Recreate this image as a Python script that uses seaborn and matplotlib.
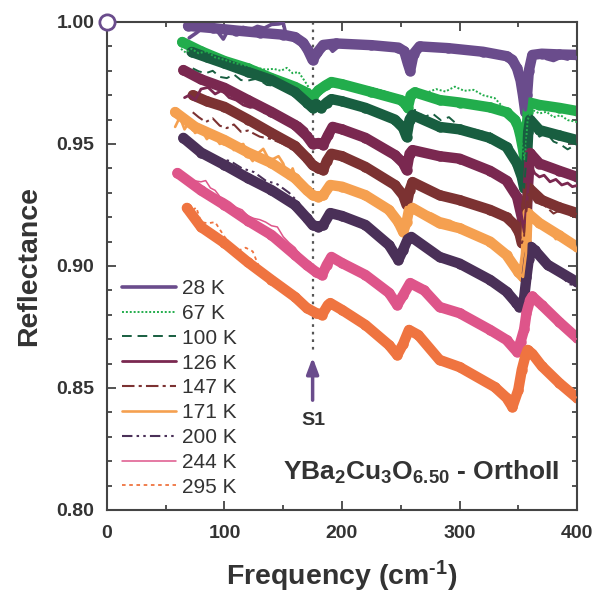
import matplotlib
matplotlib.use("Agg")
import matplotlib.pyplot as plt
import seaborn as sns
import numpy as np
from matplotlib.ticker import MultipleLocator, FormatStrFormatter

# ---------------- data ----------------
labels = ["28 K", "67 K", "100 K", "126 K", "147 K", "171 K", "200 K", "244 K", "295 K"]
colors = ["#6a4c8c", "#22ad4c", "#185e40", "#7a2850", "#7c3232", "#f5a050", "#4a3058", "#de558a", "#ef7440"]

# model fits (thick curves)
f28_x = [69, 90, 110, 130, 150, 160, 167, 171, 175, 179, 184, 195, 225, 248, 253, 256, 258, 261, 266, 290, 320, 340, 345, 349, 352, 354, 356, 357.5, 359, 362, 370, 385, 400]
f28_y = [0.9984, 0.9975, 0.9965, 0.9956, 0.9948, 0.9938, 0.9915, 0.9885, 0.9844, 0.9875, 0.9906, 0.9912, 0.9905, 0.9895, 0.9880, 0.9830, 0.9800, 0.9870, 0.9900, 0.9893, 0.9878, 0.9860, 0.9845, 0.9810, 0.9760, 0.9700, 0.9630, 0.9700, 0.9800, 0.9865, 0.9870, 0.9867, 0.9865]
f67_x = [64, 80, 100, 120, 140, 160, 170, 175, 180, 186, 191, 200, 225, 250, 254, 256, 258.5, 262, 283, 300, 326, 340, 347, 350, 352, 354, 355.5, 357, 358, 359.5, 368, 385, 400]
f67_y = [0.9918, 0.9880, 0.9840, 0.9810, 0.9770, 0.9734, 0.9710, 0.9693, 0.9720, 0.9740, 0.9754, 0.9745, 0.9713, 0.9680, 0.9664, 0.9648, 0.9700, 0.9712, 0.9680, 0.9670, 0.9650, 0.9630, 0.9600, 0.9570, 0.9530, 0.9480, 0.9434, 0.9520, 0.9630, 0.9670, 0.9660, 0.9648, 0.9635]
f100_x = [72, 85, 100, 120, 140, 160, 170, 175, 178, 182, 187, 191, 200, 220, 245, 252, 255, 257.5, 260, 283, 300, 326, 340, 349, 353, 355, 357, 358.5, 360, 368, 385, 400]
f100_y = [0.9877, 0.9855, 0.9830, 0.9795, 0.9762, 0.9713, 0.9670, 0.9648, 0.9664, 0.9648, 0.9670, 0.9684, 0.9675, 0.9648, 0.9600, 0.9566, 0.9529, 0.9600, 0.9619, 0.9570, 0.9560, 0.9525, 0.9488, 0.9420, 0.9365, 0.9320, 0.9400, 0.9550, 0.9600, 0.9557, 0.9535, 0.9516]
f126_x = [65, 80, 100, 120, 140, 160, 170, 175, 180, 184, 188, 192, 200, 220, 245, 252, 255, 257.5, 260, 283, 300, 326, 340, 349, 353, 355, 356.5, 358, 360, 368, 385, 400]
f126_y = [0.9803, 0.9765, 0.9730, 0.9680, 0.9631, 0.9578, 0.9533, 0.9500, 0.9504, 0.9496, 0.9535, 0.9570, 0.9560, 0.9525, 0.9455, 0.9422, 0.9393, 0.9460, 0.9475, 0.9450, 0.9440, 0.9390, 0.9350, 0.9283, 0.9200, 0.9140, 0.9100, 0.9300, 0.9463, 0.9420, 0.9390, 0.9365]
f147_x = [73, 85, 100, 120, 140, 160, 170, 175, 180, 184, 187, 191, 200, 220, 245, 252, 255, 257.5, 260, 283, 300, 326, 340, 347, 351, 353, 355, 357, 359, 370, 385, 400]
f147_y = [0.9700, 0.9675, 0.9652, 0.9600, 0.9545, 0.9492, 0.9443, 0.9414, 0.9400, 0.9393, 0.9430, 0.9460, 0.9450, 0.9406, 0.9332, 0.9290, 0.9250, 0.9310, 0.9344, 0.9290, 0.9270, 0.9230, 0.9200, 0.9168, 0.9135, 0.9094, 0.9120, 0.9250, 0.9320, 0.9270, 0.9240, 0.9217]
f171_x = [58, 75, 100, 120, 140, 160, 170, 175, 180, 184, 190, 200, 220, 240, 248, 252, 255, 257, 260, 283, 300, 326, 340, 350, 354, 356.5, 358, 368, 385, 400]
f171_y = [0.9631, 0.9570, 0.9516, 0.9465, 0.9422, 0.9360, 0.9311, 0.9290, 0.9283, 0.9290, 0.9332, 0.9325, 0.9290, 0.9230, 0.9180, 0.9140, 0.9180, 0.9230, 0.9238, 0.9175, 0.9155, 0.9100, 0.9045, 0.8975, 0.8955, 0.9050, 0.9217, 0.9176, 0.9125, 0.9078]
f200_x = [65, 80, 100, 120, 140, 160, 170, 175, 180, 184, 190, 200, 220, 240, 248, 252, 256, 259, 283, 300, 326, 340, 348, 351, 353, 355, 357, 359, 361, 364, 375, 400]
f200_y = [0.9525, 0.9465, 0.9414, 0.9360, 0.9311, 0.9250, 0.9197, 0.9168, 0.9160, 0.9168, 0.9217, 0.9205, 0.9168, 0.9086, 0.9025, 0.9066, 0.9110, 0.9119, 0.9037, 0.9010, 0.8943, 0.8895, 0.8850, 0.8832, 0.8835, 0.8870, 0.8955, 0.9030, 0.9078, 0.9065, 0.9005, 0.8934]
f244_x = [60, 80, 100, 120, 140, 160, 170, 178, 183, 187, 191, 200, 220, 240, 247, 252, 258, 270, 283, 300, 326, 340, 349, 352, 355, 357, 360, 362, 370, 385, 400]
f244_y = [0.9381, 0.9310, 0.9250, 0.9185, 0.9127, 0.9045, 0.9004, 0.8975, 0.8963, 0.9004, 0.9037, 0.9012, 0.8963, 0.8890, 0.8840, 0.8880, 0.8930, 0.8900, 0.8832, 0.8807, 0.8738, 0.8697, 0.8648, 0.8690, 0.8740, 0.8807, 0.8860, 0.8875, 0.8840, 0.8770, 0.8705]
f295_x = [68, 80, 100, 120, 140, 160, 170, 178, 183, 188, 190, 200, 220, 240, 247, 252, 257, 265, 283, 300, 330, 340, 345, 350, 353, 356, 358, 362, 370, 385, 400]
f295_y = [0.9238, 0.9160, 0.9094, 0.9015, 0.8943, 0.8873, 0.8828, 0.8807, 0.8800, 0.8840, 0.8848, 0.8820, 0.8758, 0.8676, 0.8635, 0.8680, 0.8738, 0.8717, 0.8615, 0.8586, 0.8504, 0.8460, 0.8422, 0.8492, 0.8574, 0.8630, 0.8656, 0.8640, 0.8590, 0.8520, 0.8459]

# measured data (thin curves)
d28_x = [70, 76, 82, 88, 94, 99, 104, 110, 116, 122, 128, 134, 140, 146, 150, 153, 158, 165, 171, 175, 179, 184, 188, 192, 197, 203, 225, 248, 253, 256, 258, 261, 266, 300, 340, 345, 349, 352, 354, 356, 357.5, 359, 362, 368, 374, 380, 386, 392, 396, 400]
d28_y = [0.9935, 0.9955, 0.9978, 0.9972, 0.9962, 0.9930, 0.9975, 0.9962, 0.9978, 0.9968, 0.9982, 0.9975, 0.9990, 0.9992, 0.9996, 0.9935, 0.9930, 0.9920, 0.9880, 0.9850, 0.9878, 0.9885, 0.9905, 0.9880, 0.9900, 0.9912, 0.9905, 0.9895, 0.9880, 0.9830, 0.9800, 0.9870, 0.9900, 0.9893, 0.9860, 0.9845, 0.9810, 0.9760, 0.9700, 0.9640, 0.9700, 0.9800, 0.9865, 0.9868, 0.9850, 0.9842, 0.9855, 0.9848, 0.9862, 0.9852]
d67_x = [63, 67, 72, 78, 85, 92, 100, 110, 120, 128, 135, 142, 148, 153, 158, 163, 168, 172, 175, 180, 186, 191, 200, 225, 235, 245, 250, 256, 258.5, 264, 272, 280, 288, 296, 304, 312, 320, 330, 340, 347, 352, 355.5, 358, 362, 368, 374, 380, 386, 392, 400]
d67_y = [0.9890, 0.9875, 0.9890, 0.9872, 0.9880, 0.9855, 0.9845, 0.9830, 0.9820, 0.9812, 0.9805, 0.9808, 0.9800, 0.9812, 0.9790, 0.9795, 0.9760, 0.9730, 0.9695, 0.9722, 0.9742, 0.9756, 0.9748, 0.9730, 0.9718, 0.9700, 0.9685, 0.9650, 0.9702, 0.9715, 0.9710, 0.9725, 0.9715, 0.9735, 0.9718, 0.9722, 0.9700, 0.9688, 0.9635, 0.9600, 0.9530, 0.9434, 0.9600, 0.9640, 0.9625, 0.9632, 0.9610, 0.9618, 0.9598, 0.9590]
d100_x = [73, 78, 84, 90, 96, 102, 108, 114, 120, 128, 136, 144, 152, 160, 168, 175, 180, 187, 191, 200, 220, 245, 252, 255, 257.5, 262, 270, 277, 284, 291, 298, 305, 312, 320, 326, 340, 349, 353, 355, 358.5, 362, 368, 374, 380, 386, 392, 400]
d100_y = [0.9810, 0.9798, 0.9790, 0.9800, 0.9775, 0.9770, 0.9785, 0.9762, 0.9760, 0.9768, 0.9742, 0.9738, 0.9722, 0.9700, 0.9668, 0.9648, 0.9664, 0.9670, 0.9684, 0.9675, 0.9648, 0.9600, 0.9566, 0.9529, 0.9600, 0.9640, 0.9610, 0.9625, 0.9598, 0.9610, 0.9580, 0.9568, 0.9560, 0.9550, 0.9545, 0.9488, 0.9420, 0.9365, 0.9320, 0.9550, 0.9570, 0.9530, 0.9545, 0.9510, 0.9498, 0.9478, 0.9500]
d126_x = [66, 70, 75, 80, 86, 92, 98, 104, 110, 116, 122, 128, 134, 140, 146, 152, 158, 164, 170, 175, 180, 184, 188, 192, 200, 220, 245, 252, 255, 257.5, 260, 283, 300, 326, 340, 349, 353, 355, 358, 360, 364, 368, 372, 377, 382, 387, 392, 396, 400]
d126_y = [0.9690, 0.9700, 0.9680, 0.9725, 0.9732, 0.9705, 0.9720, 0.9690, 0.9680, 0.9660, 0.9650, 0.9655, 0.9628, 0.9632, 0.9610, 0.9612, 0.9590, 0.9585, 0.9560, 0.9500, 0.9504, 0.9496, 0.9535, 0.9570, 0.9560, 0.9525, 0.9455, 0.9422, 0.9393, 0.9460, 0.9475, 0.9450, 0.9440, 0.9390, 0.9350, 0.9283, 0.9200, 0.9140, 0.9300, 0.9420, 0.9380, 0.9365, 0.9372, 0.9345, 0.9355, 0.9332, 0.9340, 0.9325, 0.9330]
d147_x = [73, 78, 84, 90, 96, 102, 108, 114, 120, 130, 140, 150, 160, 170, 175, 180, 184, 187, 191, 200, 220, 245, 252, 255, 257.5, 260, 283, 300, 326, 340, 347, 351, 353, 355, 357, 359, 365, 372, 380, 388, 395, 400]
d147_y = [0.9630, 0.9610, 0.9590, 0.9605, 0.9575, 0.9565, 0.9580, 0.9550, 0.9555, 0.9530, 0.9520, 0.9500, 0.9470, 0.9440, 0.9414, 0.9400, 0.9393, 0.9430, 0.9460, 0.9450, 0.9415, 0.9340, 0.9290, 0.9250, 0.9310, 0.9350, 0.9300, 0.9280, 0.9235, 0.9200, 0.9168, 0.9135, 0.9094, 0.9120, 0.9250, 0.9300, 0.9260, 0.9250, 0.9215, 0.9235, 0.9205, 0.9215]
d171_x = [58, 62, 66, 70, 75, 80, 85, 90, 96, 102, 108, 112, 116, 120, 124, 128, 133, 138, 142, 146, 150, 154, 158, 162, 166, 170, 175, 180, 184, 190, 200, 220, 240, 248, 252, 255, 257, 260, 268, 276, 284, 292, 300, 326, 340, 350, 354, 356.5, 358, 364, 370, 376, 382, 388, 393, 397, 400]
d171_y = [0.9570, 0.9610, 0.9560, 0.9590, 0.9545, 0.9560, 0.9520, 0.9545, 0.9500, 0.9520, 0.9475, 0.9495, 0.9500, 0.9455, 0.9430, 0.9460, 0.9480, 0.9435, 0.9440, 0.9450, 0.9420, 0.9360, 0.9400, 0.9340, 0.9335, 0.9311, 0.9290, 0.9283, 0.9290, 0.9332, 0.9330, 0.9295, 0.9235, 0.9180, 0.9140, 0.9180, 0.9230, 0.9240, 0.9225, 0.9215, 0.9195, 0.9185, 0.9165, 0.9105, 0.9045, 0.8975, 0.8955, 0.9050, 0.9217, 0.9195, 0.9165, 0.9150, 0.9110, 0.9125, 0.9085, 0.9100, 0.9060]
d200_x = [65, 75, 85, 95, 105, 115, 125, 135, 145, 155, 165, 170, 175, 180, 184, 190, 200, 220, 240, 248, 252, 256, 259, 270, 283, 300, 326, 340, 348, 351, 353, 355, 357, 359, 361, 364, 370, 376, 382, 388, 394, 400]
d200_y = [0.9525, 0.9490, 0.9465, 0.9440, 0.9430, 0.9400, 0.9385, 0.9350, 0.9335, 0.9300, 0.9250, 0.9210, 0.9170, 0.9162, 0.9168, 0.9217, 0.9205, 0.9175, 0.9095, 0.9030, 0.9066, 0.9110, 0.9119, 0.9085, 0.9045, 0.9020, 0.8950, 0.8895, 0.8850, 0.8832, 0.8835, 0.8870, 0.8955, 0.9030, 0.9078, 0.9060, 0.9010, 0.8985, 0.8975, 0.8950, 0.8925, 0.8920]
d244_x = [60, 64, 68, 72, 76, 80, 84, 88, 92, 96, 100, 105, 110, 115, 120, 125, 130, 135, 140, 145, 150, 155, 160, 165, 170, 178, 183, 187, 191, 200, 220, 240, 247, 252, 258, 270, 283, 300, 326, 340, 349, 352, 355, 357, 360, 362, 366, 370, 374, 378, 382, 386, 390, 394, 398, 400]
d244_y = [0.9370, 0.9355, 0.9345, 0.9340, 0.9348, 0.9345, 0.9350, 0.9320, 0.9310, 0.9285, 0.9275, 0.9260, 0.9240, 0.9230, 0.9205, 0.9195, 0.9190, 0.9180, 0.9165, 0.9160, 0.9120, 0.9095, 0.9075, 0.9040, 0.9010, 0.8975, 0.8963, 0.9004, 0.9037, 0.9012, 0.8965, 0.8890, 0.8840, 0.8880, 0.8930, 0.8900, 0.8835, 0.8810, 0.8740, 0.8697, 0.8648, 0.8690, 0.8740, 0.8807, 0.8860, 0.8875, 0.8855, 0.8835, 0.8805, 0.8790, 0.8760, 0.8765, 0.8735, 0.8738, 0.8705, 0.8700]
d295_x = [68, 72, 76, 80, 86, 92, 100, 110, 118, 124, 130, 140, 160, 170, 178, 183, 188, 190, 200, 220, 240, 247, 252, 257, 265, 283, 300, 330, 340, 345, 350, 353, 356, 358, 362, 370, 385, 400]
d295_y = [0.9238, 0.9225, 0.9240, 0.9180, 0.9175, 0.9180, 0.9120, 0.9060, 0.9075, 0.9060, 0.8990, 0.8950, 0.8875, 0.8830, 0.8807, 0.8800, 0.8840, 0.8848, 0.8820, 0.8760, 0.8676, 0.8635, 0.8680, 0.8738, 0.8717, 0.8615, 0.8586, 0.8504, 0.8460, 0.8422, 0.8492, 0.8574, 0.8630, 0.8656, 0.8640, 0.8590, 0.8520, 0.8459]

fit_x = [f28_x, f67_x, f100_x, f126_x, f147_x, f171_x, f200_x, f244_x, f295_x]
fit_y = [f28_y, f67_y, f100_y, f126_y, f147_y, f171_y, f200_y, f244_y, f295_y]
dat_x = [d28_x, d67_x, d100_x, d126_x, d147_x, d171_x, d200_x, d244_x, d295_x]
dat_y = [d28_y, d67_y, d100_y, d126_y, d147_y, d171_y, d200_y, d244_y, d295_y]

line_styles = ["-", (0, (1, 1)), (0, (5, 3)), "-", (0, (6, 2, 1.5, 2)), "-",
               (0, (5, 2, 1.2, 2, 1.2, 2)), "-", (0, (2, 2))]
line_widths = [2.6, 1.4, 1.4, 2.0, 1.5, 1.9, 1.5, 1.1, 1.3]

# ---------------- style ----------------
sns.set_theme(style="ticks")
plt.rcParams['font.family'] = ['Liberation Sans', 'DejaVu Sans']
plt.rcParams['mathtext.fontset'] = 'custom'
plt.rcParams['mathtext.rm'] = 'Liberation Sans:bold'
plt.rcParams['mathtext.it'] = 'Liberation Sans:bold'
plt.rcParams['mathtext.bf'] = 'Liberation Sans:bold'
txt = "#333333"

fig = plt.figure(figsize=(6.03, 5.96), dpi=100)
ax = fig.add_axes([0.1774, 0.1443, 0.7795, 0.8188])

for i in range(len(labels)):
    sns.lineplot(x=fit_x[i], y=fit_y[i], ax=ax, color=colors[i], linewidth=7.5,
                 marker='o', markersize=7.5, markeredgewidth=0,
                 sort=False, estimator=None, solid_capstyle='round',
                 solid_joinstyle='round', zorder=2 + i * 0.01)

handles = []
for i in range(len(labels)):
    sns.lineplot(x=dat_x[i], y=dat_y[i], ax=ax, color=colors[i], linewidth=line_widths[i],
                 linestyle=line_styles[i], sort=False, estimator=None, zorder=3)
    handles.append(ax.get_lines()[-1])

# annotation: dotted line, arrow, label
ax.plot([175, 175], [1.0, 0.8656], color="#555555", ls=(0, (1.2, 2.2)), lw=1.6, zorder=1)
ax.annotate("", xy=(175, 0.8625), xytext=(175, 0.8450),
            arrowprops=dict(arrowstyle="-|>,head_length=0.8,head_width=0.3",
                            color="#6a4c8c", lw=2.5, shrinkA=0, shrinkB=0))
ax.text(175.5, 0.8368, "S1", ha="center", va="center", fontsize=14, fontweight="bold", color=txt)
ax.text(150, 0.8125, r"YBa$_2$Cu$_3$O$_{6.50}$ - OrthoII", ha="left", va="baseline",
        fontsize=19, fontweight="bold", color=txt)

# hollow circle at origin corner
ax.plot([0], [1.0], marker='o', markersize=11, markerfacecolor="white",
        markeredgecolor="#6a4c8c", markeredgewidth=2, clip_on=False, zorder=10)

ax.set_xlim(0, 400)
ax.set_ylim(0.80, 1.00)
ax.xaxis.set_major_locator(MultipleLocator(100))
ax.xaxis.set_minor_locator(MultipleLocator(50))
ax.yaxis.set_major_locator(MultipleLocator(0.05))
ax.yaxis.set_minor_locator(MultipleLocator(0.01))
ax.yaxis.set_major_formatter(FormatStrFormatter('%.2f'))
ax.tick_params(which='both', direction='in', top=True, right=True, color="#444444", width=1.3)
ax.tick_params(which='major', length=6.5, labelsize=14, pad=11, labelcolor=txt)
ax.tick_params(axis='y', which='major', pad=9)
ax.tick_params(which='minor', length=3.5)
for lab in ax.get_xticklabels() + ax.get_yticklabels():
    lab.set_fontweight('bold')
for s in ax.spines.values():
    s.set_linewidth(1.5)
    s.set_color("#444444")

ax.set_xlabel("Frequency (cm$^{\u2010 1}$)", fontsize=20.5, fontweight="bold", color=txt, labelpad=12)
ax.set_ylabel("Reflectance", fontsize=20.5, fontweight="bold", color=txt, labelpad=10)

leg = ax.legend(handles, labels, loc="upper left", bbox_to_anchor=(0.0, 0.503),
                frameon=False, fontsize=15, handlelength=2.6, handletextpad=0.3,
                labelspacing=0.28, borderaxespad=0.3)
for t in leg.get_texts():
    t.set_color(txt)

fig.savefig("out.png", dpi=100)
